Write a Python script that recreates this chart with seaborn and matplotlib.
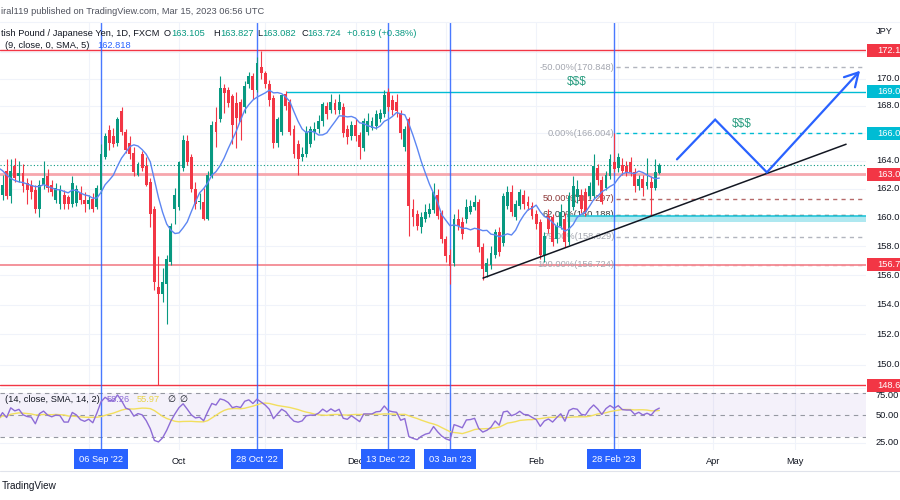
import numpy as np
import pandas as pd
import matplotlib
matplotlib.use("Agg")
import matplotlib.pyplot as plt
from matplotlib.patches import Rectangle
from matplotlib.ticker import NullLocator
import seaborn as sns

# ---------------- data ----------------
first_session = "2022-08-01"
last_session = "2023-05-31"
first_candle = 1  # first visible candle = 2022-08-02

opens = [162.9, 161.6, 163.3, 161.5, 163.6, 162.9, 163.1, 162.4, 162.3, 161.9,
         160.6, 162.3, 162.9, 162.3, 161.2, 160.9, 161.6, 161.4, 160.9, 161.0,
         161.7, 161.2, 160.9, 161.3, 160.7, 161.9, 164.3, 166.2, 165.8, 165.3,
         167.6, 166.1, 165.3, 164.6, 163.0, 164.5, 163.6, 162.5, 160.6, 155.2,
         154.7, 155.4, 156.9, 160.6, 160.7, 163.5, 165.4, 164.3, 162.0, 161.05,
         161.1, 159.9, 162.9, 166.8, 167.0, 169.3, 169.2, 168.7, 168.2, 168.3,
         167.9, 169.6, 170.2, 169.2, 170.9, 170.4, 169.6, 168.6, 165.3, 166.1,
         168.9, 168.3, 166.3, 165.2, 164.3, 164.5, 165.2, 166.1, 166.3, 166.9,
         168.0, 167.7, 168.2, 167.7, 167.9, 166.3, 165.8, 166.6, 165.9, 164.9,
         166.1, 166.4, 166.5, 167.0, 167.4, 169.0, 168.4, 168.3, 167.5, 165.0,
         167.0, 160.6, 160.2, 159.3, 159.9, 160.2, 160.5, 161.6, 160.3, 158.5,
         157.4, 156.8, 159.9, 159.7, 159.9, 160.4, 160.7, 161.1, 157.9, 156.2,
         156.7, 157.4, 159.0, 158.2, 160.8, 161.8, 160.0, 160.8, 161.6, 161.1,
         160.8, 160.2, 159.7, 157.4, 160.1, 160.0, 158.5, 159.4, 159.9, 158.3,
         160.7, 161.4, 161.6, 161.8, 161.5, 161.5, 163.5, 162.6, 162.1, 162.9,
         163.9, 163.5, 163.7, 163.6, 163.9, 163.2, 162.2, 162.7, 162.2, 162.5,
         162.1, 163.105]

highs = [163.3, 163.0, 164.1, 164.1, 164.2, 164.0, 163.8, 162.8, 162.6, 162.3,
         162.6, 164.0, 163.4, 162.6, 162.4, 162.3, 161.9, 161.6, 162.9, 162.3,
         162.2, 161.8, 161.6, 161.7, 162.3, 165.2, 166.0, 166.6, 166.4, 167.2,
         167.9, 166.3, 165.8, 165.0, 163.9, 164.7, 164.25, 162.8, 160.8, 157.3,
         156.5, 157.4, 159.6, 162.1, 164.0, 165.9, 165.9, 164.5, 162.5, 161.7,
         162.1, 163.3, 166.9, 167.9, 170.2, 169.6, 169.4, 168.9, 169.0, 168.5,
         169.8, 170.5, 170.4, 171.6, 172.1, 170.6, 169.9, 168.8, 167.2, 168.9,
         169.1, 168.5, 166.6, 165.5, 165.0, 166.5, 166.5, 166.8, 167.3, 168.3,
         168.3, 168.9, 168.5, 168.9, 168.2, 166.6, 166.9, 167.0, 166.1, 167.1,
         167.5, 167.2, 167.7, 167.8, 169.2, 169.3, 168.8, 168.9, 167.7, 166.5,
         167.2, 161.3, 160.5, 160.4, 160.9, 161.0, 162.4, 162.0, 160.5, 158.7,
         157.8, 160.2, 160.6, 160.0, 161.3, 161.2, 161.6, 161.3, 158.2, 157.2,
         158.0, 159.2, 159.3, 161.7, 162.2, 162.3, 161.2, 162.0, 161.9, 161.5,
         161.1, 160.5, 159.9, 159.0, 160.6, 160.2, 159.7, 160.9, 160.3, 161.8,
         162.9, 162.6, 162.0, 162.1, 162.5, 164.5, 163.8, 162.9, 163.3, 164.5,
         166.0, 164.6, 164.2, 164.0, 164.3, 163.5, 163.0, 163.0, 164.2, 162.9,
         164.1, 163.827]

lows = [161.0, 161.2, 161.3, 161.0, 162.5, 162.5, 161.8, 160.9, 161.3, 160.3,
        160.0, 162.0, 161.8, 161.5, 161.0, 160.6, 160.6, 160.6, 160.7, 160.8,
        160.9, 160.4, 160.6, 160.4, 160.6, 161.7, 164.1, 164.8, 165.0, 165.1,
        165.9, 164.6, 164.1, 162.9, 162.9, 163.3, 162.2, 159.3, 155.0, 148.67,
        154.2, 152.7, 156.7, 159.5, 160.5, 163.3, 163.7, 161.8, 160.6, 160.6,
        159.8, 159.8, 162.8, 165.0, 166.8, 167.5, 167.9, 165.2, 164.9, 165.5,
        167.5, 169.3, 168.5, 169.0, 170.0, 169.3, 168.0, 164.9, 165.0, 165.9,
        167.7, 165.9, 164.2, 163.0, 164.0, 164.3, 165.0, 165.5, 166.0, 166.5,
        167.0, 167.5, 167.4, 167.4, 165.7, 165.2, 165.5, 165.4, 164.1, 164.7,
        165.9, 166.2, 166.3, 166.8, 167.2, 167.6, 167.3, 167.2, 165.6, 164.7,
        158.7, 159.4, 159.1, 158.9, 159.7, 160.0, 160.3, 159.9, 158.2, 156.9,
        155.4, 156.6, 159.1, 158.5, 159.6, 160.2, 160.5, 157.6, 155.7, 155.9,
        156.4, 157.2, 157.3, 158.0, 160.6, 160.1, 159.8, 160.6, 160.6, 160.5,
        159.9, 159.2, 157.1, 156.9, 158.9, 158.0, 158.2, 159.2, 157.9, 158.1,
        160.5, 161.0, 160.3, 160.1, 161.3, 161.3, 162.3, 160.9, 161.9, 162.7,
        163.2, 163.2, 163.0, 162.9, 162.9, 161.8, 161.9, 161.5, 162.0, 160.19,
        161.9, 163.082]

closes = [161.3, 162.3, 161.5, 163.3, 162.8, 163.1, 162.2, 161.9, 161.8, 160.6,
          162.3, 162.8, 162.1, 161.8, 162.1, 162.0, 160.9, 160.9, 162.4, 162.0,
          161.2, 160.9, 161.2, 160.6, 162.1, 164.5, 165.8, 165.3, 165.2, 167.0,
          166.1, 164.8, 164.5, 163.2, 163.75, 163.5, 162.3, 160.2, 155.5, 154.7,
          155.5, 157.1, 159.4, 161.6, 163.9, 165.5, 163.9, 162.0, 160.9, 161.15,
          159.9, 163.0, 166.6, 166.1, 169.3, 168.95, 168.2, 166.6, 167.1, 166.8,
          169.5, 170.2, 169.2, 171.2, 170.4, 169.6, 168.4, 165.3, 167.0, 168.8,
          168.0, 166.1, 164.5, 164.1, 164.5, 166.1, 166.3, 166.3, 166.9, 168.1,
          167.4, 168.3, 167.7, 168.3, 166.0, 165.7, 166.6, 165.8, 165.0, 166.9,
          166.9, 166.9, 167.4, 167.5, 168.8, 167.9, 167.7, 167.6, 166.0, 166.3,
          160.8, 160.0, 159.4, 160.0, 160.4, 160.6, 161.8, 160.1, 158.5, 157.3,
          156.6, 159.9, 159.4, 158.8, 160.7, 160.8, 161.1, 157.9, 156.4, 156.8,
          157.5, 159.0, 157.6, 161.5, 161.8, 160.4, 160.9, 161.8, 160.9, 160.8,
          160.1, 159.5, 157.4, 158.7, 159.2, 158.3, 159.4, 160.4, 158.3, 161.5,
          162.2, 162.0, 160.6, 160.4, 162.2, 163.6, 162.6, 161.1, 163.0, 164.1,
          163.4, 164.3, 163.3, 163.2, 163.2, 162.2, 162.7, 162.1, 162.5, 162.1,
          163.2, 163.724]

# MA values at the very left edge (before 9 visible closes exist)
ma_head = [163.5, 163.3, 163.0, 162.75, 162.6, 162.5, 162.45, 162.35]
# RSI state at the left edge (average gain / loss), read so RSI starts near 47
rsi_seed_gain, rsi_seed_loss = 0.30, 0.34

marked_dates = ["2022-09-06", "2022-10-28", "2022-12-13", "2023-01-03", "2023-02-28"]
marked_labels = ["06 Sep '22", "28 Oct '22", "13 Dec '22", "03 Jan '23", "28 Feb '23"]
month_labels = ["Oct", "Dec", "Feb", "Apr", "May"]
month_label_dates = ["2022-10-03", "2022-12-01", "2023-02-01", "2023-04-03", "2023-05-01"]
price_ticks = [150, 152, 154, 156, 158, 160, 162, 164, 166, 168, 170, 172]
rsi_ticks = [75, 50, 25]

level_prices = [172.13, 169.05, 166.004, 163.03, 156.72, 148.65]
level_labels = ["172.1", "169.0", "166.0", "163.0", "156.7", "148.6"]
level_colors = ["#f23645", "#00bcd4", "#00bcd4", "#f23645", "#f23645", "#f23645"]
last_price = 163.724
teal_line_start = "2022-11-08"

fib_levels = ["-50.00%", "0.00%", "50.00%", "62.00%", "79.00%", "100.00%"]
fib_prices = [170.848, 166.004, 161.297, 160.188, 158.629, 156.724]
fib_start = "2023-02-28"

zone_start_idx = 139.5
zone_low, zone_high = 159.67, 160.12
trend_idx = [119.05, 207.5]
trend_price = [155.8, 165.2]
path_idx = [166.3, 175.6, 188.2, 210.9]
path_price = [164.11, 166.99, 163.18, 170.6]
dollar_idx = [142.0, 182.1]
dollar_price = [169.78, 166.7]

# ---------------- style ----------------
sns.set_theme(style="white")
plt.rcParams["font.family"] = ["Liberation Sans", "DejaVu Sans"]
plt.rcParams["axes.unicode_minus"] = False
FS = 6.7
DARK = "#131722"
UP, DOWN = "#089981", "#f23645"
BLUE = "#2962ff"

W, H = 900, 500
fig = plt.figure(figsize=(W / 100, H / 100), dpi=100, facecolor="white")


def rect(l, t, r, b):
    return [l / W, 1 - b / H, (r - l) / W, (b - t) / H]


ax = fig.add_axes(rect(0, 22, 866, 388))
axr = fig.add_axes(rect(0, 388, 866, 450), sharex=ax)

sessions = pd.bdate_range(first_session, last_session)


def sidx(d):
    return sessions.get_loc(pd.Timestamp(d))


idx = np.arange(first_candle, first_candle + len(closes))
o, h, l, c = map(np.asarray, (opens, highs, lows, closes))

XMIN, XMAX = 1.389, 212.35


def setup(a):
    a.set_facecolor("white")
    for s in a.spines.values():
        s.set_visible(False)
    a.set_xlim(XMIN, XMAX)
    a.xaxis.set_major_locator(NullLocator())
    a.xaxis.set_minor_locator(NullLocator())
    a.yaxis.set_major_locator(NullLocator())
    a.yaxis.set_minor_locator(NullLocator())
    a.set_xlabel("")
    a.set_ylabel("")


ax.set_yscale("log")
ax.set_ylim(148.48, 174.28)
axr.set_ylim(18.6, 75.0)
setup(ax)
setup(axr)

# grid
month_idx = []
for i in range(1, len(sessions)):
    if sessions[i].month != sessions[i - 1].month:
        month_idx.append(i)
for p in price_ticks:
    ax.axhline(p, color="#f0f3fa", lw=0.8, zorder=0)
for m in month_idx:
    ax.axvline(m, color="#f0f3fa", lw=0.8, zorder=0)
    axr.axvline(m, color="#f0f3fa", lw=0.8, zorder=0)
for v in (25, 75):
    axr.axhline(v, color="#f0f3fa", lw=0.8, zorder=0)

# marked date lines
for d in marked_dates:
    ax.axvline(sidx(d), color=BLUE, lw=1.0, alpha=0.85, zorder=3)
    axr.axvline(sidx(d), color=BLUE, lw=1.0, alpha=0.85, zorder=3)

# horizontal levels
ax.axhline(level_prices[0], color="#f23645", lw=1.0, zorder=2)
ax.hlines(level_prices[1], sidx(teal_line_start), XMAX, color="#00bcd4", lw=1.0, zorder=2)
ax.axhline(level_prices[3], color="#f7a6ac", lw=2.0, zorder=2)
ax.axhline(level_prices[4], color="#f4939b", lw=1.4, zorder=2)
ax.axhline(level_prices[5], color="#f23645", lw=1.0, zorder=2)
ax.axhline(last_price, color=UP, lw=0.8, ls=(0, (1, 2)), zorder=2)

# fib retracement
fx = sidx(fib_start) + 0.4
fib_line_colors = ["#b2b5be", "#00bcd4", "#b66a6a", "#4a4a4a", "#b2b5be", "#f08c94"]
fib_text_colors = ["#a3a6af", "#a3a6af", "#8d3a3a", "#3a3a3a", "#a3a6af", "#a3a6af"]
for lv, p, lc, tc in zip(fib_levels, fib_prices, fib_line_colors, fib_text_colors):
    ax.hlines(p, fx, XMAX, color=lc, lw=1.0, ls=(0, (3, 3)), zorder=2)
    ax.text(fx - 0.3, p, f"{lv}({p:.3f})", ha="right", va="center",
            fontsize=FS, color=tc, zorder=2)

# zone
ax.fill_between([zone_start_idx, XMAX], zone_low, zone_high, color="#a7e6ef",
                alpha=0.9, lw=0, zorder=2)
ax.hlines(zone_high, zone_start_idx, XMAX, color="#26c6da", lw=1.2, zorder=2)

# candles
up = c >= o
col = np.where(up, UP, DOWN)
ax.vlines(idx, l, h, colors=col, lw=0.8, zorder=4)
body = np.maximum(np.abs(c - o), 0.04)
ax.bar(idx, body, bottom=np.minimum(o, c), width=0.7, color=col, linewidth=0, zorder=5)

# moving average (9, SMA)
ma = pd.Series(c).rolling(9).mean().to_numpy()
ma[:len(ma_head)] = ma_head
sns.lineplot(x=idx, y=ma, ax=ax, color="#5d86f2", linewidth=1.0, zorder=6)

# trendline and projection path
ax.plot(trend_idx, trend_price, color=DARK, lw=1.1, zorder=6)
ax.plot(path_idx[:3], path_price[:3], color=BLUE, lw=1.6, zorder=6,
        solid_joinstyle="miter")
ax.annotate("", xy=(path_idx[3], path_price[3]), xytext=(path_idx[2], path_price[2]),
            arrowprops=dict(arrowstyle="->,head_length=0.8,head_width=0.45",
                            color=BLUE, lw=1.6, shrinkA=0, shrinkB=0),
            annotation_clip=False, zorder=6)
for xi, pi in zip(dollar_idx, dollar_price):
    ax.text(xi, pi, r"\$\$\$", color="#2a9d80", fontsize=8.5, ha="center",
            va="center", zorder=6)

# RSI (14) with its 14-period SMA
ag, al = rsi_seed_gain, rsi_seed_loss
prev = None
rsi = []
for v in c:
    if prev is not None:
        d = v - prev
        ag = (ag * 13 + max(d, 0)) / 14
        al = (al * 13 + max(-d, 0)) / 14
    rsi.append(100 - 100 / (1 + ag / al))
    prev = v
rsi = np.array(rsi)
rsi_ma = pd.Series(rsi).rolling(14, min_periods=1).mean().to_numpy()

axr.axhspan(30, 70, color="#7e57c2", alpha=0.08, lw=0, zorder=1)
for v in (70, 50, 30):
    axr.axhline(v, color="#9598a1", lw=0.8, ls=(0, (4, 4)), zorder=2)
sns.lineplot(x=idx, y=rsi_ma, ax=axr, color="#f2df5e", linewidth=1.0, zorder=4)
sns.lineplot(x=idx, y=rsi, ax=axr, color="#8e6cd6", linewidth=1.0, zorder=5)

for a in (ax, axr):
    a.set_xlim(XMIN, XMAX)
    a.set_xlabel("")
    a.set_ylabel("")
ax.set_ylim(148.48, 174.28)
axr.set_ylim(18.6, 75.0)

# ---------------- overlay: scales, labels, header ----------------
ov = fig.add_axes([0, 0, 1, 1], zorder=10)
ov.set_xlim(0, W)
ov.set_ylim(H, 0)
ov.axis("off")
ov.patch.set_visible(False)


def py(p):
    return H - ax.transData.transform((XMIN, p))[1]


def ry(v):
    return H - axr.transData.transform((XMIN, v))[1]


def px(i):
    return ax.transData.transform((i, 160.0))[0]


ov.plot([0, W], [22, 22], color="#f0f3fa", lw=0.8)
ov.text(876, 32, "JPY", fontsize=FS, color=DARK, va="center")
for p in price_ticks:
    ov.text(876, py(p), f"{p:.1f}", fontsize=FS, color=DARK, va="center")
for v in rsi_ticks:
    ov.text(876, max(ry(v), 395), f"{v:.2f}", fontsize=FS, color=DARK, va="center")
for p, lab, colr in zip(level_prices, level_labels, level_colors):
    y = py(p)
    ov.add_patch(Rectangle((867, y - 6.5), 33, 13, facecolor=colr, edgecolor="none", zorder=3))
    ov.text(877, y, lab, fontsize=FS, color="white", va="center", zorder=4)

# header
ov.text(1, 12, "iral119 published on TradingView.com, Mar 15, 2023 06:56 UTC",
        fontsize=FS, color="#50535e", va="center")
segs = [(1, "tish Pound / Japanese Yen, 1D, FXCM", DARK),
        (164, "O", DARK), (171, "163.105", UP),
        (213, "H", DARK), (220, "163.827", UP),
        (257, "L", DARK), (262, "163.082", UP),
        (301, "C", DARK), (307, "163.724", UP),
        (347, "+0.619 (+0.38%)", UP)]
for x, s, colr in segs:
    ov.text(x, 33, s, fontsize=FS, color=colr, va="center")
ov.text(5, 46, "(9, close, 0, SMA, 5)", fontsize=FS, color=DARK, va="center")
ov.text(97, 46, "162.818", fontsize=FS, color=BLUE, va="center")

# RSI legend
ov.text(5, 400, "(14, close, SMA, 14, 2)", fontsize=FS, color=DARK, va="center")
ov.text(107, 400, "58.26", fontsize=FS, color="#8e6cd6", va="center")
ov.text(137, 400, "55.97", fontsize=FS, color="#e8d44a", va="center")
ov.text(167, 400, "\u2205", fontsize=FS, color=DARK, va="center")
ov.text(179, 400, "\u2205", fontsize=FS, color=DARK, va="center")

# time axis: visible month labels, then the blue date boxes
for name, d in zip(month_labels, month_label_dates):
    ov.text(px(sidx(d)), 461, name, fontsize=FS, color=DARK, ha="center", va="center")
for d, lab in zip(marked_dates, marked_labels):
    ov.text(px(sidx(d)), 459, lab, fontsize=FS, color="white", ha="center", va="center",
            bbox=dict(boxstyle="square,pad=0.55", fc=BLUE, ec="none"), zorder=5)

ov.plot([0, W], [471, 471], color="#e0e3eb", lw=0.8)
ov.text(2, 486, "TradingView", fontsize=7.2, color=DARK, va="center")

fig.savefig("out.png", dpi=100, facecolor="white")
